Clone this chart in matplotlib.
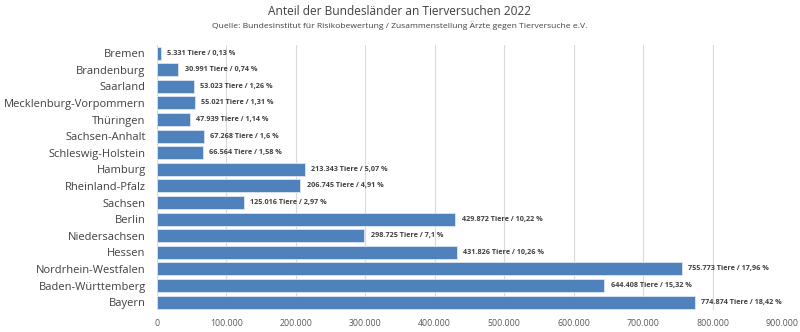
# Anteil der Bundesländer an Tierversuchen 2022

import matplotlib
matplotlib.use('Agg')
import matplotlib.pyplot as plt
from matplotlib.ticker import FuncFormatter

# Daten (von oben nach unten)
laender = ['Bremen', 'Brandenburg', 'Saarland', 'Mecklenburg-Vorpommern', 'Thüringen',
           'Sachsen-Anhalt', 'Schleswig-Holstein', 'Hamburg', 'Rheinland-Pfalz', 'Sachsen',
           'Berlin', 'Niedersachsen', 'Hessen', 'Nordrhein-Westfalen', 'Baden-Württemberg',
           'Bayern']
tiere = [5331, 30991, 53023, 55021, 47939, 67268, 66564, 213343, 206745, 125016,
         429872, 298725, 431826, 755773, 644408, 774874]
anteil = ['0,13', '0,74', '1,26', '1,31', '1,14', '1,6', '1,58', '5,07', '4,91', '2,97',
          '10,22', '7,1', '10,26', '17,96', '15,32', '18,42']
xticks = list(range(0, 900001, 100000))

plt.rcParams['font.family'] = ['Open Sans', 'DejaVu Sans']

def tausender(v, pos=None):
	return f'{int(v):,}'.replace(',', '.')

figure = plt.figure(figsize=(8.0, 3.32), dpi=100)
axis = figure.add_axes([0.196, 0.065, 0.7815, 0.8])

ypos = list(range(len(laender)))
axis.barh(ypos, tiere, height=0.78, color='#4F81BD', edgecolor='#DCE6F2', linewidth=0.6, zorder=2)

# Beschriftungen der Balken
for y, wert, proz in zip(ypos, tiere, anteil):
	axis.text(wert + 9000, y, f'{tausender(wert)} Tiere / {proz} %', va='center', ha='left',
	          fontsize=5.2, fontweight='bold', color='#404040')

axis.set_yticks(ypos)
axis.set_yticklabels(laender, fontsize=8, color='#404040')
axis.set_ylim(len(laender) - 0.5, -0.5)
axis.set_xlim(0, 900000)
axis.set_xticks(xticks)
axis.xaxis.set_major_formatter(FuncFormatter(tausender))
axis.tick_params(axis='x', labelsize=6.3, colors='#595959', length=0, pad=6)
axis.tick_params(axis='y', length=0, pad=8)
axis.grid(axis='x', color='#D9D9D9', linewidth=0.8, zorder=0)
for s in axis.spines.values():
	s.set_visible(False)

figure.text(0.5, 0.964, 'Anteil der Bundesländer an Tierversuchen 2022', ha='center', va='center',
            fontsize=8.6, color='#404040')
figure.text(0.5, 0.922, 'Quelle: Bundesinstitut für Risikobewertung / Zusammenstellung Ärzte gegen Tierversuche e.V.',
            ha='center', va='center', fontsize=6.1, color='#404040')

figure.savefig('out.png', dpi=100)
